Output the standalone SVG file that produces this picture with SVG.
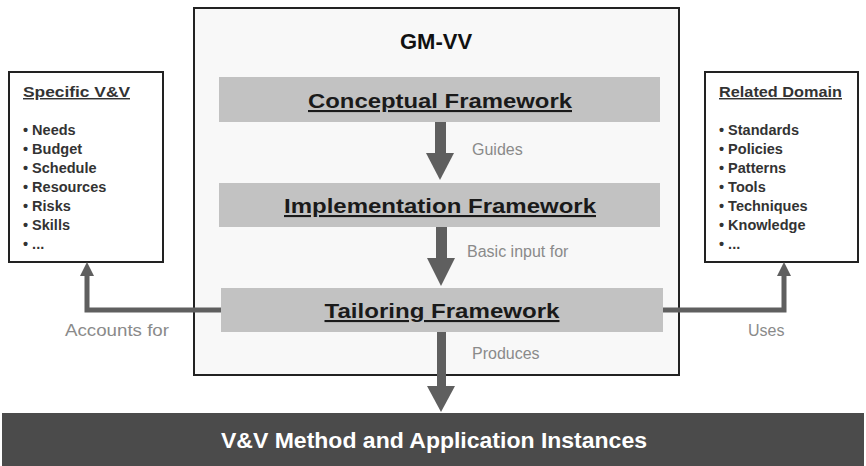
<svg xmlns="http://www.w3.org/2000/svg" width="866" height="466" viewBox="0 0 866 466">
<style>
.bar{fill:#c2c2c2}
.bt{font-family:"Liberation Sans",Arial,sans-serif;font-weight:bold;font-size:21px;fill:#1a1a1a;text-decoration:underline;text-anchor:middle}
.side{fill:#fff;stroke:#222;stroke-width:2}
.st{font-family:"Liberation Sans",Arial,sans-serif;font-weight:bold;font-size:14.5px;fill:#333}
.lbl{font-family:"Liberation Sans",Arial,sans-serif;font-size:16px;fill:#8a8a8a}
.conn{fill:none;stroke:#5f5f5f;stroke-width:5}
.ah{fill:#5f5f5f}
</style>
<rect x="0" y="0" width="866" height="466" fill="#fff"/>
<g id="gmvv">
<rect x="194" y="8" width="485" height="367" fill="#f8f8f8" stroke="#222" stroke-width="2"/>
<text x="436" y="49" font-family="Liberation Sans,Arial,sans-serif" font-weight="bold" font-size="22" fill="#111" text-anchor="middle">GM-VV</text>
</g>
<g id="conceptual">
<rect class="bar" x="219" y="77" width="441" height="45"/>
<text class="bt" x="440" y="108" textLength="264" lengthAdjust="spacingAndGlyphs">Conceptual Framework</text>
</g>
<g id="implementation">
<rect class="bar" x="219" y="183" width="441" height="44"/>
<text class="bt" x="440" y="213" textLength="312" lengthAdjust="spacingAndGlyphs">Implementation Framework</text>
</g>
<g id="tailoring">
<rect class="bar" x="221" y="288" width="442" height="44"/>
<text class="bt" x="442" y="318" textLength="235" lengthAdjust="spacingAndGlyphs">Tailoring Framework</text>
</g>
<g id="specific">
<rect class="side" x="9" y="72" width="154" height="190"/>
<text class="st" x="23" y="97" text-decoration="underline" textLength="107" lengthAdjust="spacingAndGlyphs">Specific V&amp;V</text>
<text class="st" x="23" y="135">• Needs</text>
<text class="st" x="23" y="154">• Budget</text>
<text class="st" x="23" y="173">• Schedule</text>
<text class="st" x="23" y="192">• Resources</text>
<text class="st" x="23" y="211">• Risks</text>
<text class="st" x="23" y="230">• Skills</text>
<text class="st" x="23" y="249">• ...</text>
</g>
<g id="related">
<rect class="side" x="705" y="72" width="153" height="190"/>
<text class="st" x="719" y="97" text-decoration="underline" textLength="123" lengthAdjust="spacingAndGlyphs">Related Domain</text>
<text class="st" x="719" y="135">• Standards</text>
<text class="st" x="719" y="154">• Policies</text>
<text class="st" x="719" y="173">• Patterns</text>
<text class="st" x="719" y="192">• Tools</text>
<text class="st" x="719" y="211">• Techniques</text>
<text class="st" x="719" y="230">• Knowledge</text>
<text class="st" x="719" y="249">• ...</text>
</g>
<g id="instances">
<rect x="2" y="413" width="862" height="53" fill="#4b4b4b"/>
<text x="434" y="448" font-family="Liberation Sans,Arial,sans-serif" font-weight="bold" font-size="22" fill="#fff" text-anchor="middle" textLength="426" lengthAdjust="spacingAndGlyphs">V&amp;V Method and Application Instances</text>
</g>
<g id="connectors">
<rect class="ah" x="435" y="122" width="11" height="32"/>
<polygon class="ah" points="426,153 454,153 440,180"/>
<rect class="ah" x="436" y="227" width="11" height="32"/>
<polygon class="ah" points="427,258 455,258 441,286"/>
<rect class="ah" x="437" y="332" width="9" height="56"/>
<polygon class="ah" points="427,386 455,386 441,412"/>
<polyline class="conn" points="221,310 87,310 87,274"/>
<polygon class="ah" points="80,276 94,276 87,262"/>
<polyline class="conn" points="663,310 784,310 784,274"/>
<polygon class="ah" points="777,276 791,276 784,262"/>
<text class="lbl" x="472" y="155">Guides</text>
<text class="lbl" x="467" y="257">Basic input for</text>
<text class="lbl" x="472" y="359">Produces</text>
<text class="lbl" x="65" y="336" textLength="104" lengthAdjust="spacingAndGlyphs">Accounts for</text>
<text class="lbl" x="748" y="336">Uses</text>
</g>
</svg>
